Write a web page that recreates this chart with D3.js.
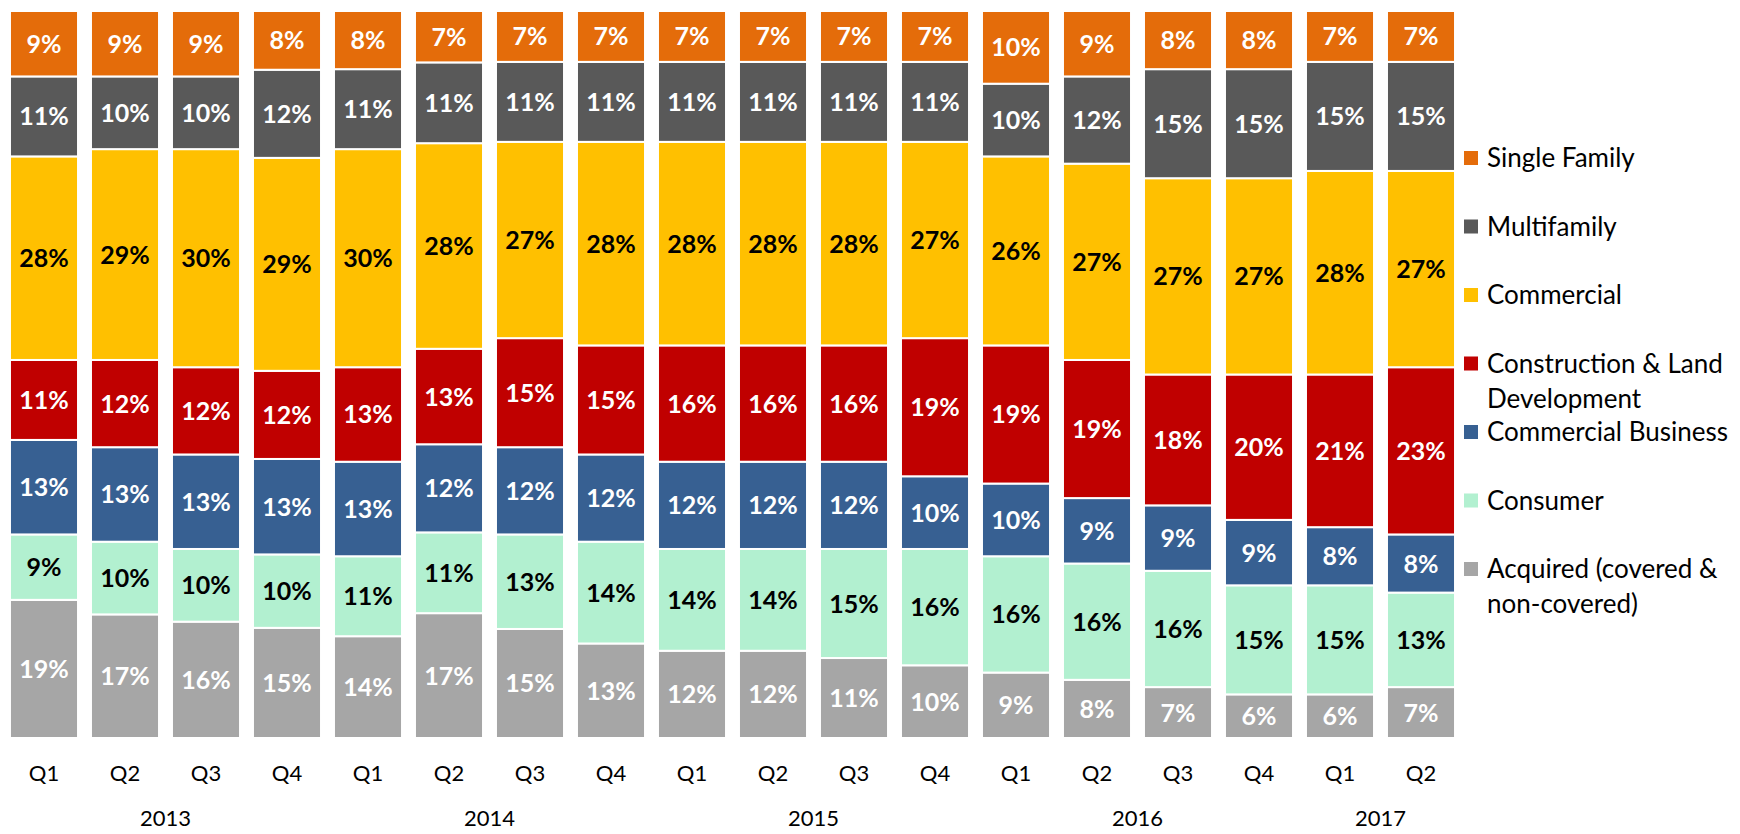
<!DOCTYPE html>
<html>
<head>
<meta charset="utf-8">
<script src="https://cdn.jsdelivr.net/npm/d3@7"></script>
<style>
  body { margin: 0; background: #fff; }
  svg { display: block; font-family: Lato, "Open Sans", sans-serif; }
</style>
</head>
<body>
<div id="chart"></div>
<script>
var w = 1740;
var h = 834;

// quarters and years along the bottom
var quarters = ["Q1","Q2","Q3","Q4","Q1","Q2","Q3","Q4","Q1","Q2","Q3","Q4","Q1","Q2","Q3","Q4","Q1","Q2"];
var years = [
  {year: "2013", from: 0, to: 3},
  {year: "2014", from: 4, to: 7},
  {year: "2015", from: 8, to: 11},
  {year: "2016", from: 12, to: 15},
  {year: "2017", from: 16, to: 17}
];

// series, bottom of stack first
var seriesNames = ["Acquired (covered & non-covered)", "Consumer", "Commercial Business",
                   "Construction & Land Development", "Commercial", "Multifamily", "Single Family"];
var acquired     = [19,17,16,15,14,17,15,13,12,12,11,10,9,8,7,6,6,7];
var consumer     = [9,10,10,10,11,11,13,14,14,14,15,16,16,16,16,15,15,13];
var commBusiness = [13,13,13,13,13,12,12,12,12,12,12,10,10,9,9,9,8,8];
var construction = [11,12,12,12,13,13,15,15,16,16,16,19,19,19,18,20,21,23];
var commercial   = [28,29,30,29,30,28,27,28,28,28,28,27,26,27,27,27,28,27];
var multifamily  = [11,10,10,12,11,11,11,11,11,11,11,11,10,12,15,15,15,15];
var singleFamily = [9,9,9,8,8,7,7,7,7,7,7,7,10,9,8,8,7,7];

var seriesValues = [acquired, consumer, commBusiness, construction, commercial, multifamily, singleFamily];
var colors = ["#A6A6A6", "#B2F0D0", "#376092", "#C00000", "#FFC000", "#595959", "#E46C0A"];
var labelColors = ["#fff", "#000", "#fff", "#fff", "#000", "#fff", "#fff"];

// legend order is top of stack first
var legendLines = [
  ["Single Family"],
  ["Multifamily"],
  ["Commercial"],
  ["Construction & Land", "Development"],
  ["Commercial Business"],
  ["Consumer"],
  ["Acquired (covered &", "non-covered)"]
];

// build rows for d3.stack
var rows = quarters.map(function(q, i){
  var r = {idx: i};
  seriesNames.forEach(function(s, j){ r[s] = seriesValues[j][i]; });
  return r;
});

var svg = d3.select("#chart")
            .append("svg")
            .attr("width", w)
            .attr("height", h);

var x = d3.scaleBand()
          .domain(d3.range(quarters.length))
          .range([3.5, 1461.5])
          .paddingInner(0.16)
          .paddingOuter(0.08);

var y = d3.scaleLinear()
          .domain([0, 1])
          .range([738, 11]);

var stack = d3.stack()
              .keys(seriesNames)
              .offset(d3.stackOffsetExpand);

var layers = stack(rows);

var layer = svg.append("g")
               .selectAll("g")
               .data(layers)
               .enter()
               .append("g")
               .attr("fill", function(d, i){ return colors[i]; });

layer.selectAll("rect")
     .data(function(d){ return d; })
     .enter()
     .append("rect")
     .attr("x", function(d){ return x(d.data.idx); })
     .attr("width", x.bandwidth())
     .attr("y", function(d){ return y(d[1]); })
     .attr("height", function(d){ return y(d[0]) - y(d[1]); })
     .attr("stroke", "#fff")
     .attr("stroke-width", 2);

// value labels in the middle of each piece
layers.forEach(function(ly, i){
  svg.append("g")
     .selectAll("text")
     .data(ly)
     .enter()
     .append("text")
     .attr("x", function(d){ return x(d.data.idx) + x.bandwidth() / 2; })
     .attr("y", function(d){ return (y(d[0]) + y(d[1])) / 2; })
     .attr("dy", "0.36em")
     .attr("text-anchor", "middle")
     .attr("font-size", 25)
     .attr("font-weight", "bold")
     .attr("fill", labelColors[i])
     .text(function(d){ return d.data[ly.key] + "%"; });
});

// quarter labels
svg.append("g")
   .selectAll("text")
   .data(quarters)
   .enter()
   .append("text")
   .attr("x", function(d, i){ return x(i) + x.bandwidth() / 2; })
   .attr("y", 773)
   .attr("dy", "0.36em")
   .attr("text-anchor", "middle")
   .attr("font-size", 22)
   .attr("fill", "#000")
   .text(function(d){ return d; });

// year labels centred under their quarters (kept just inside the bottom edge)
svg.append("g")
   .selectAll("text")
   .data(years)
   .enter()
   .append("text")
   .attr("x", function(d){ return (x(d.from) + x(d.to) + x.bandwidth()) / 2; })
   .attr("y", 826)
   .attr("text-anchor", "middle")
   .attr("font-size", 22)
   .attr("fill", "#000")
   .text(function(d){ return d.year; });

// legend
var legend = svg.append("g")
                .selectAll("g")
                .data(legendLines)
                .enter()
                .append("g")
                .attr("transform", function(d, i){ return "translate(1464," + (158 + i * 68.5) + ")"; });

legend.append("rect")
      .attr("x", 0)
      .attr("y", -7)
      .attr("width", 14)
      .attr("height", 14)
      .attr("fill", function(d, i){ return colors[colors.length - 1 - i]; });

legend.append("text")
      .attr("x", 23)
      .attr("y", 0)
      .attr("font-size", 26)
      .attr("fill", "#000")
      .selectAll("tspan")
      .data(function(d){ return d; })
      .enter()
      .append("tspan")
      .attr("x", 23)
      .attr("y", function(d, k){ return k * 35; })
      .attr("dy", "0.36em")
      .text(function(d){ return d; });
</script>
</body>
</html>
